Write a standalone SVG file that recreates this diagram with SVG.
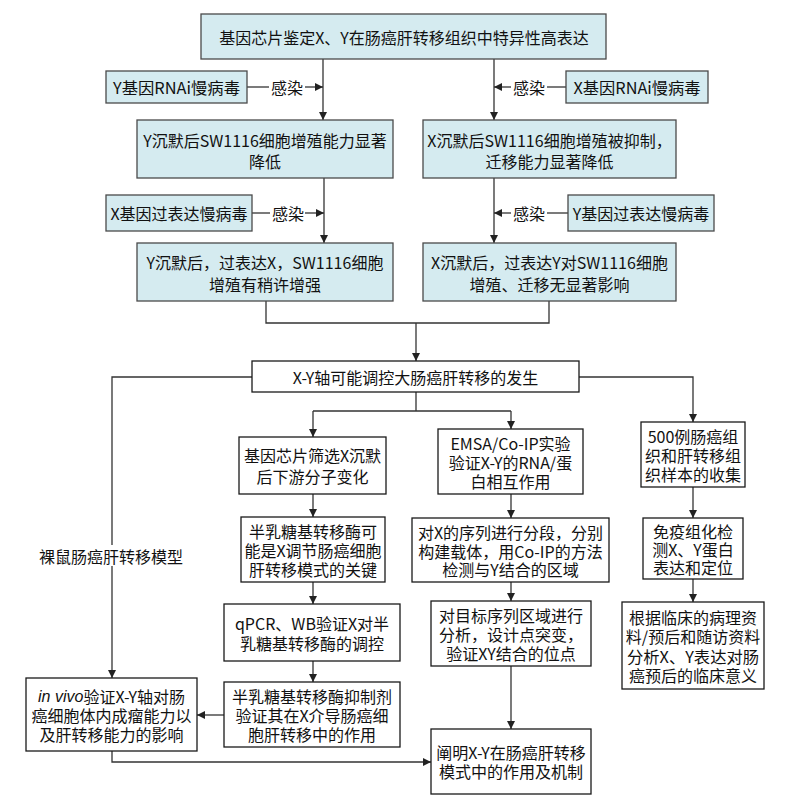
<svg xmlns="http://www.w3.org/2000/svg" width="792" height="808" viewBox="0 0 792 808">
<style>
.b{fill:#D5EBF0;stroke:#4a4a4a;stroke-width:1.3}
.w{fill:#fff;stroke:#1a1a1a;stroke-width:1.3}
.t{font-family:"Noto Sans CJK SC","Noto Sans",sans-serif;font-size:16px;fill:#111;text-anchor:middle;dominant-baseline:central}
.c{fill:none;stroke:#333;stroke-width:1.3}
.a{marker-end:url(#arr)}
</style>
<defs>
<marker id="arr" markerUnits="userSpaceOnUse" markerWidth="9" markerHeight="8" refX="8" refY="4" orient="auto">
<path d="M0,0 L8,4 L0,8 z" fill="#222"/>
</marker>
</defs>
<rect width="792" height="808" fill="#fff"/>

<g id="connectors">
<path class="c a" d="M323,59 V120"/>
<path class="c a" d="M494,59 V120"/>
<path class="c" d="M247,87 H269"/>
<path class="c a" d="M305,87 H323"/>
<path class="c" d="M566,87 H547"/>
<path class="c a" d="M511,87 H494"/>
<path class="c a" d="M324,178 V243"/>
<path class="c a" d="M494,178 V243"/>
<path class="c" d="M252,213 H270"/>
<path class="c a" d="M305,213 H324"/>
<path class="c" d="M568,213 H547"/>
<path class="c a" d="M511,213 H494"/>
<path class="c" d="M266,301 V323 H549 V301"/>
<path class="c a" d="M416,323 V361"/>
<path class="c" d="M252,377 H112 V545"/>
<path class="c a" d="M112,566 V678"/>
<path class="c a" d="M579,377 H693 V422"/>
<path class="c" d="M416,392 V411 M313,411 H511"/>
<path class="c a" d="M313,411 V437"/>
<path class="c a" d="M511,411 V429"/>
<path class="c a" d="M313,494 V517"/>
<path class="c a" d="M313,582 V604"/>
<path class="c a" d="M313,661 V682"/>
<path class="c a" d="M224,715 H197"/>
<path class="c a" d="M112,751 V762 H431"/>
<path class="c a" d="M511,494 V518"/>
<path class="c a" d="M511,582 V601"/>
<path class="c a" d="M511,666 V729"/>
<path class="c a" d="M693,487 V518"/>
<path class="c a" d="M693,579 V602"/>
<text class="t" x="287" y="87">感染</text>
<text class="t" x="529" y="87">感染</text>
<text class="t" x="288" y="213">感染</text>
<text class="t" x="529" y="213">感染</text>
<text class="t" x="111" y="556">裸鼠肠癌肝转移模型</text>
</g>

<g id="n_top"><rect class="b" x="201" y="14" width="405" height="45"/><text class="t" x="404" y="36.5">基因芯片鉴定X、Y在肠癌肝转移组织中特异性高表达</text></g>
<g id="n_yrnai"><rect class="b" x="106" y="71" width="141" height="32"/><text class="t" x="176.5" y="87" textLength="127" lengthAdjust="spacingAndGlyphs">Y基因RNAi慢病毒</text></g>
<g id="n_xrnai"><rect class="b" x="566" y="71" width="142" height="32"/><text class="t" x="637" y="87" textLength="127" lengthAdjust="spacingAndGlyphs">X基因RNAi慢病毒</text></g>
<g id="n_ysil"><rect class="b" x="137" y="120" width="256" height="58"/><text class="t"><tspan x="265" y="140">Y沉默后SW1116细胞增殖能力显著</tspan><tspan x="265" y="161">降低</tspan></text></g>
<g id="n_xsil"><rect class="b" x="423" y="120" width="253" height="58"/><text class="t"><tspan x="549.5" y="140">X沉默后SW1116细胞增殖被抑制，</tspan><tspan x="549.5" y="161">迁移能力显著降低</tspan></text></g>
<g id="n_xover"><rect class="b" x="106" y="195" width="146" height="36"/><text class="t" x="179" y="213">X基因过表达慢病毒</text></g>
<g id="n_yover"><rect class="b" x="568" y="195" width="146" height="36"/><text class="t" x="641" y="213">Y基因过表达慢病毒</text></g>
<g id="n_yres"><rect class="b" x="137" y="243" width="256" height="58"/><text class="t"><tspan x="265" y="262">Y沉默后，过表达X，SW1116细胞</tspan><tspan x="265" y="284">增殖有稍许增强</tspan></text></g>
<g id="n_xres"><rect class="b" x="423" y="243" width="253" height="58"/><text class="t"><tspan x="549.5" y="262">X沉默后，过表达Y对SW1116细胞</tspan><tspan x="549.5" y="284">增殖、迁移无显著影响</tspan></text></g>
<g id="n_axis"><rect class="w" x="252" y="361" width="327" height="31"/><text class="t" x="415.5" y="376.5">X-Y轴可能调控大肠癌肝转移的发生</text></g>

<g id="n_chip"><rect class="w" x="239" y="437" width="147" height="57"/><text class="t"><tspan x="312.5" y="455">基因芯片筛选X沉默</tspan><tspan x="312.5" y="476">后下游分子变化</tspan></text></g>
<g id="n_gal"><rect class="w" x="241" y="517" width="144" height="65"/><text class="t"><tspan x="313" y="531">半乳糖基转移酶可</tspan><tspan x="313" y="550">能是X调节肠癌细胞</tspan><tspan x="313" y="569">肝转移模式的关键</tspan></text></g>
<g id="n_qpcr"><rect class="w" x="224" y="604" width="176" height="57"/><text class="t"><tspan x="312" y="623">qPCR、WB验证X对半</tspan><tspan x="312" y="643">乳糖基转移酶的调控</tspan></text></g>
<g id="n_inhib"><rect class="w" x="224" y="682" width="176" height="65"/><text class="t"><tspan x="312" y="696">半乳糖基转移酶抑制剂</tspan><tspan x="312" y="715">验证其在X介导肠癌细</tspan><tspan x="312" y="734">胞肝转移中的作用</tspan></text></g>
<g id="n_invivo"><rect class="w" x="26" y="678" width="171" height="73"/><text class="t"><tspan x="111.5" y="696"><tspan font-family="Liberation Sans" font-style="italic">in vivo</tspan>验证X-Y轴对肠</tspan><tspan x="111.5" y="715">癌细胞体内成瘤能力以</tspan><tspan x="111.5" y="734">及肝转移能力的影响</tspan></text></g>
<g id="n_emsa"><rect class="w" x="438" y="429" width="145" height="65"/><text class="t"><tspan x="510.5" y="443">EMSA/Co-IP实验</tspan><tspan x="510.5" y="462">验证X-Y的RNA/蛋</tspan><tspan x="510.5" y="481">白相互作用</tspan></text></g>
<g id="n_seg"><rect class="w" x="412" y="518" width="197" height="64"/><text class="t"><tspan x="510.5" y="532">对X的序列进行分段，分别</tspan><tspan x="510.5" y="551">构建载体，用Co-IP的方法</tspan><tspan x="510.5" y="569">检测与Y结合的区域</tspan></text></g>
<g id="n_mut"><rect class="w" x="431" y="601" width="160" height="65"/><text class="t"><tspan x="511" y="615">对目标序列区域进行</tspan><tspan x="511" y="634">分析，设计点突变，</tspan><tspan x="511" y="653">验证XY结合的位点</tspan></text></g>
<g id="n_final"><rect class="w" x="431" y="729" width="160" height="65"/><text class="t"><tspan x="511" y="752">阐明X-Y在肠癌肝转移</tspan><tspan x="511" y="771">模式中的作用及机制</tspan></text></g>
<g id="n_500"><rect class="w" x="641" y="422" width="104" height="65"/><text class="t"><tspan x="693" y="436">500例肠癌组</tspan><tspan x="693" y="455">织和肝转移组</tspan><tspan x="693" y="474">织样本的收集</tspan></text></g>
<g id="n_ihc"><rect class="w" x="643" y="518" width="100" height="61"/><text class="t"><tspan x="693" y="531">免疫组化检</tspan><tspan x="693" y="549">测X、Y蛋白</tspan><tspan x="693" y="567">表达和定位</tspan></text></g>
<g id="n_clin"><rect class="w" x="622" y="602" width="142" height="87"/><text class="t"><tspan x="693" y="617">根据临床的病理资</tspan><tspan x="693" y="636">料/预后和随访资料</tspan><tspan x="693" y="656" textLength="132" lengthAdjust="spacingAndGlyphs">分析X、Y表达对肠</tspan><tspan x="693" y="675">癌预后的临床意义</tspan></text></g>
</svg>
